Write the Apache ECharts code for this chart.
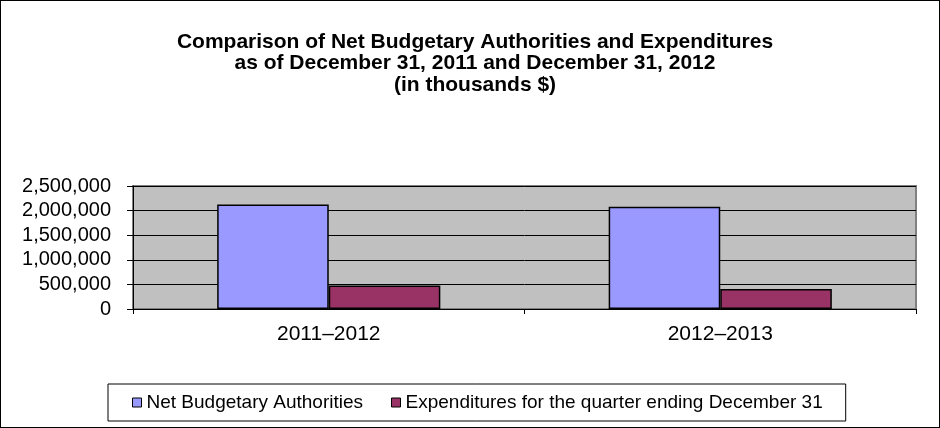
<!DOCTYPE html>
<html>
<head>
<meta charset="utf-8">
<script src="https://cdn.jsdelivr.net/npm/echarts@6/dist/echarts.min.js"></script>
<style>
html,body{margin:0;padding:0;background:#fff;}
#c{width:940px;height:428px;box-sizing:border-box;border:1px solid #000;}
</style>
</head>
<body>
<div id="c"></div>
<script>
var categories = ['2011\u20132012', '2012\u20132013'];
var seriesNames = ['Net Budgetary Authorities', 'Expenditures for the quarter ending December 31'];
var netAuthorities = [2125000, 2080000];
var expenditures = [480000, 405000];
var yTicks = [0, 500000, 1000000, 1500000, 2000000, 2500000];

var chart = echarts.init(document.getElementById('c'));
var font = 'Liberation Sans, Arial, sans-serif';
chart.setOption({
  animation: false,
  textStyle: {fontFamily: font},
  title: {
    text: 'Comparison of Net Budgetary Authorities and Expenditures\nas of December 31, 2011 and December 31, 2012\n(in thousands $)',
    left: 469, top: 25, textAlign: 'center',
    textStyle: {fontFamily: font, fontSize: 21, fontWeight: 'bold', color: '#000', lineHeight: 21.5}
  },
  legend: {
    data: seriesNames,
    top: 383, left: 107,
    icon: 'rect', itemWidth: 9, itemHeight: 9, itemGap: 28,
    backgroundColor: '#fff', borderColor: '#000', borderWidth: 1,
    padding: [9, 23, 9, 24],
    textStyle: {fontFamily: font, fontSize: 19, color: '#000'},
    itemStyle: {borderColor: '#000', borderWidth: 1}
  },
  grid: {
    left: 132, right: 23, top: 185, bottom: 118,
    show: true, backgroundColor: '#C0C0C0', borderColor: '#808080', borderWidth: 2
  },
  xAxis: {
    type: 'category', data: categories,
    axisLine: {lineStyle: {color: '#000', width: 1}},
    axisTick: {show: true, length: 5, alignWithLabel: false, lineStyle: {color: '#000'}},
    axisLabel: {fontFamily: font, fontSize: 21, color: '#000', margin: 15}
  },
  yAxis: {
    type: 'value', min: yTicks[0], max: yTicks[yTicks.length - 1], interval: yTicks[1] - yTicks[0],
    axisLine: {show: true, lineStyle: {color: '#000', width: 1}},
    axisTick: {show: true, length: 6, lineStyle: {color: '#000'}},
    splitLine: {show: true, lineStyle: {color: '#000', width: 1}},
    axisLabel: {fontFamily: font, fontSize: 20, color: '#000', margin: 22,
      formatter: function (v) { return v.toLocaleString('en-US'); }}
  },
  series: [
    {name: seriesNames[0], type: 'bar', data: netAuthorities, barGap: '0%', barCategoryGap: '43%',
     itemStyle: {color: '#9999FF', borderColor: '#000', borderWidth: 1.5}},
    {name: seriesNames[1], type: 'bar', data: expenditures, barGap: '0%', barCategoryGap: '43%',
     itemStyle: {color: '#993366', borderColor: '#000', borderWidth: 1.5}}
  ]
});
</script>
</body>
</html>
